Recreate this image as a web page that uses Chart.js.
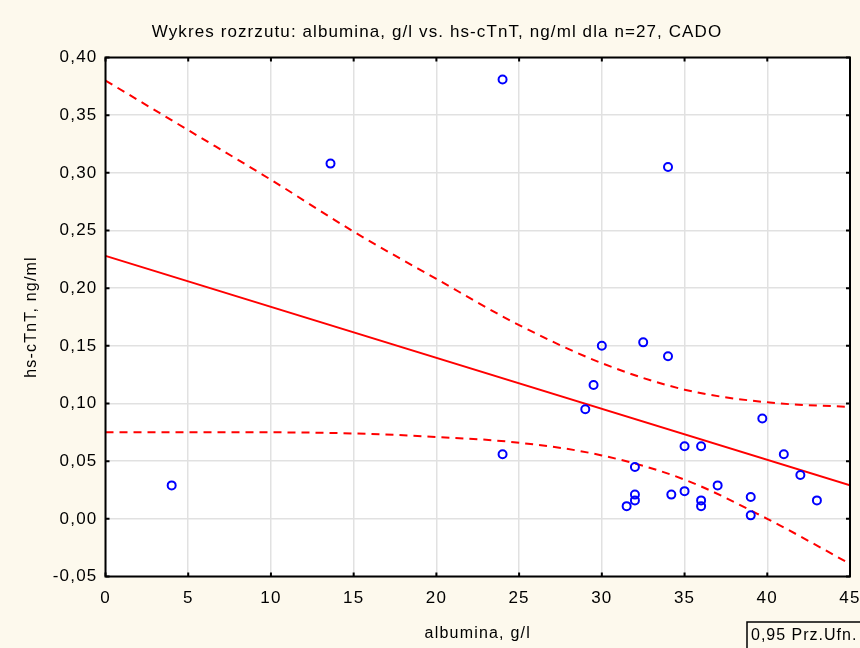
<!DOCTYPE html>
<html>
<head>
<meta charset="utf-8">
<script src="https://cdn.jsdelivr.net/npm/chart.js@4/dist/chart.umd.min.js"></script>
<style>
  html, body { margin: 0; padding: 0; background: #fdf9ed; }
  #wrap { width: 860px; height: 648px; }
</style>
</head>
<body>
<div id="wrap"><canvas id="scatter"></canvas></div>
<script>
// albumina (g/l) and hs-cTnT (ng/ml), n = 27
const albumina = [4, 13.6, 24, 34, 24, 29, 29.5, 30, 32.5, 34, 32, 32, 32, 31.5,
  34.2, 35, 35, 36, 36, 36, 37, 39, 39, 39.7, 41, 42, 43];
const hsTnT = [0.029, 0.308, 0.381, 0.305, 0.056, 0.095, 0.116, 0.150, 0.153, 0.141,
  0.045, 0.021, 0.016, 0.011, 0.021, 0.024, 0.063, 0.063, 0.016, 0.011, 0.029,
  0.019, 0.003, 0.087, 0.056, 0.038, 0.016];

// linear fit and its 0.95 confidence band
const fitX = [0, 45];
const fitY = [0.228, 0.029];
const bandX = [0, 5, 10, 15, 20, 25, 30, 35, 40, 45];
const upper95 = [0.380, 0.337, 0.294, 0.249, 0.208, 0.168, 0.135, 0.112, 0.101, 0.097];
const lower95 = [0.075, 0.075, 0.075, 0.074, 0.071, 0.066, 0.055, 0.034, 0.000, -0.039];

const xTicks = [0, 5, 10, 15, 20, 25, 30, 35, 40, 45];
const yTicks = [-0.05, 0, 0.05, 0.10, 0.15, 0.20, 0.25, 0.30, 0.35, 0.40];

const chartTitle = "Wykres rozrzutu: albumina, g/l vs. hs-cTnT, ng/ml dla n=27, CADO";
const FONT = '"Liberation Sans", Arial, sans-serif';

const toPoints = (xs, ys) => xs.map((x, i) => ({ x: x, y: ys[i] }));
const fmt = v => v.toFixed(2).replace(".", ",");

// cream page, white plot area, black frame with inward ticks, title and band note
const frame = {
  id: "frame",
  beforeDraw(chart) {
    const { ctx, chartArea: a } = chart;
    ctx.save();
    ctx.fillStyle = "#fdf9ed";
    ctx.fillRect(0, 0, chart.width, chart.height);
    ctx.fillStyle = "#ffffff";
    ctx.fillRect(a.left, a.top, a.right - a.left, a.bottom - a.top);
    ctx.restore();
    // wide lettering for the axis labels
    ctx.letterSpacing = "1.2px";
  },
  afterDraw(chart) {
    const { ctx, chartArea: a, scales } = chart;
    ctx.save();
    ctx.strokeStyle = "#000";
    ctx.lineWidth = 2;
    ctx.strokeRect(a.left, a.top, a.right - a.left, a.bottom - a.top);
    ctx.beginPath();
    xTicks.forEach(v => {
      const px = scales.x.getPixelForValue(v);
      ctx.moveTo(px, a.bottom); ctx.lineTo(px, a.bottom - 4);
      ctx.moveTo(px, a.top); ctx.lineTo(px, a.top + 4);
    });
    yTicks.forEach(v => {
      const py = scales.y.getPixelForValue(v);
      ctx.moveTo(a.left, py); ctx.lineTo(a.left + 4, py);
      ctx.moveTo(a.right, py); ctx.lineTo(a.right - 4, py);
    });
    ctx.stroke();

    ctx.fillStyle = "#000";
    ctx.textAlign = "center";
    ctx.textBaseline = "middle";
    ctx.letterSpacing = "1.1px";
    ctx.font = "17px " + FONT;
    ctx.fillText(chartTitle, 437, 32);

    ctx.lineWidth = 1.5;
    ctx.strokeRect(747, 622, 120, 40);
    ctx.textAlign = "left";
    ctx.letterSpacing = "1px";
    ctx.font = "16px " + FONT;
    ctx.fillText("0,95 Prz.Ufn.", 751, 636);
    ctx.restore();
  }
};

const lineStyle = {
  showLine: true,
  borderColor: "#ff0000",
  borderWidth: 2,
  pointRadius: 0,
  pointHoverRadius: 0,
  fill: false
};

new Chart(document.getElementById("scatter"), {
  type: "scatter",
  data: {
    datasets: [
      {
        label: "hs-cTnT",
        data: toPoints(albumina, hsTnT),
        pointRadius: 4,
        pointHoverRadius: 4,
        pointBorderWidth: 2,
        pointBorderColor: "#0000ff",
        pointBackgroundColor: "rgba(0,0,0,0)"
      },
      Object.assign({ label: "fit", data: toPoints(fitX, fitY) }, lineStyle),
      Object.assign({ label: "upper", data: toPoints(bandX, upper95),
        borderDash: [8, 6], cubicInterpolationMode: "monotone" }, lineStyle),
      Object.assign({ label: "lower", data: toPoints(bandX, lower95),
        borderDash: [8, 6], cubicInterpolationMode: "monotone" }, lineStyle)
    ]
  },
  options: {
    responsive: true,
    maintainAspectRatio: false,
    animation: false,
    devicePixelRatio: 1,
    layout: { padding: { top: 57.5, right: 10, left: 0, bottom: 0 } },
    plugins: {
      legend: { display: false },
      tooltip: { enabled: false },
      title: { display: false }
    },
    scales: {
      x: {
        type: "linear",
        min: 0,
        max: 45,
        afterBuildTicks: s => { s.ticks = xTicks.map(v => ({ value: v })); },
        afterFit: s => { s.height = 71.5; s.paddingLeft = 0; s.paddingRight = 0; },
        border: { display: false },
        grid: { color: "#e1e1e1", lineWidth: 1.5, drawTicks: false },
        ticks: {
          color: "#000",
          font: { family: FONT, size: 17 },
          padding: 12,
          maxRotation: 0,
          autoSkip: false
        },
        title: {
          display: true,
          text: "albumina, g/l",
          color: "#000",
          font: { family: FONT, size: 16 },
          padding: { top: 0, bottom: 5 }
        }
      },
      y: {
        type: "linear",
        min: -0.05,
        max: 0.40,
        afterBuildTicks: s => { s.ticks = yTicks.map(v => ({ value: v })); },
        afterFit: s => { s.width = 105.5; },
        border: { display: false },
        grid: { color: "#e1e1e1", lineWidth: 1.5, drawTicks: false },
        ticks: {
          color: "#000",
          font: { family: FONT, size: 17 },
          padding: 8,
          autoSkip: false,
          callback: v => fmt(v)
        },
        title: {
          display: true,
          text: "hs-cTnT, ng/ml",
          color: "#000",
          font: { family: FONT, size: 16 },
          padding: { top: 22, bottom: 0 }
        }
      }
    }
  },
  plugins: [frame]
});
</script>
</body>
</html>
